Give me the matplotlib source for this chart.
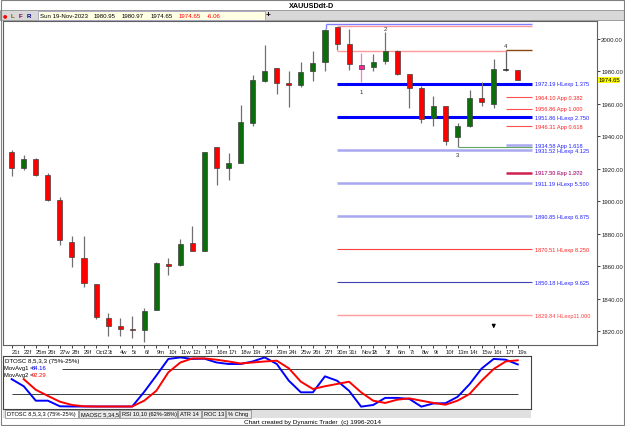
import matplotlib
matplotlib.use('Agg')
import matplotlib.pyplot as plt
from matplotlib.patches import Rectangle

plt.rcParams['font.family'] = ['Liberation Sans', 'DejaVu Sans']

W, H = 625, 427

# daily bars, Sep 21 .. Nov 19 2023
dates = ['21t', '22f', '25m', '26t', '27w', '28t', '29f', 'Oct2', '3t', '4w', '5t', '6f',
         '9m', '10t', '11w', '12t', '13f', '16m', '17t', '18w', '19t', '20f', '23m', '24t',
         '25w', '26t', '27f', '30m', '31t', 'Nov1', '2t', '3f', '6m', '7t', '8w', '9t', '10f',
         '13m', '14t', '15w', '16t', '17f', '19s']
opens = [1930.2, 1920.5, 1926.0, 1916.4, 1901.0, 1875.1, 1865.1, 1849.1, 1828.2, 1823.1, 1821.4,
         1820.8, 1833.1, 1861.4, 1860.8, 1874.3, 1869.6, 1933.2, 1920.3, 1923.6, 1948.2, 1974.2,
         1981.8, 1972.8, 1971.8, 1980.0, 1985.5, 2007.1, 1996.6, 1983.9, 1982.5, 1986.5, 1992.7,
         1978.3, 1969.5, 1951.1, 1958.5, 1939.4, 1946.5, 1963.4, 1959.9, 1980.95, 1980.95]
highs = [1931.6, 1928.5, 1926.6, 1917.2, 1902.8, 1878.5, 1878.5, 1849.4, 1831.1, 1828.4, 1829.2,
         1834.2, 1862.8, 1865.1, 1876.8, 1884.6, 1930.6, 1933.6, 1929.7, 1959.3, 1977.7, 1996.2,
         1982.2, 1980.0, 1985.5, 1992.7, 2006.0, 2007.5, 2006.0, 1991.1, 1990.6, 2004.0, 1993.0,
         1978.6, 1971.1, 1964.6, 1958.8, 1948.2, 1968.7, 1973.6, 1987.6, 1993.3, 1980.97]
lows = [1915.4, 1919.5, 1915.8, 1900.0, 1873.3, 1859.8, 1847.1, 1827.8, 1816.9, 1817.3, 1815.7,
        1813.2, 1833.1, 1854.6, 1860.0, 1869.2, 1869.4, 1910.0, 1913.3, 1923.4, 1946.2, 1973.2,
        1966.0, 1958.2, 1970.2, 1974.2, 1980.0, 1993.1, 1981.0, 1973.2, 1980.4, 1984.5, 1978.0,
        1957.4, 1948.2, 1946.2, 1934.6, 1933.2, 1945.5, 1958.5, 1957.2, 1980.3, 1974.65]
closes = [1920.5, 1926.0, 1916.4, 1900.8, 1876.2, 1865.5, 1849.5, 1828.6, 1823.4, 1821.4, 1820.6,
          1832.3, 1861.8, 1860.4, 1873.7, 1869.6, 1930.2, 1920.3, 1923.4, 1948.6, 1974.6, 1980.4,
          1973.0, 1971.8, 1979.8, 1985.1, 2005.6, 1996.8, 1984.5, 1981.4, 1985.9, 1992.7, 1978.3,
          1969.5, 1950.6, 1958.5, 1937.3, 1946.2, 1963.4, 1960.9, 1981.4, 1980.95, 1974.65]
marked_bar = 29

# DTOSC moving averages
mavg1 = [55, 41, 12.5, 12.5, 1.4, 1, 1, 1, 1, 1, 1, 30, 62, 95, 98, 95, 95.5, 88, 85, 85, 90, 98,
         85, 52, 29, 29, 60.6, 52, 32, 0.7, 4, 18, 18, 16, 0.7, 7, 7.5, 20, 45, 76, 95, 93.5, 84.16]
mavg2 = [None, 55, 34, 22, 10.5, 4, 1.4, 1, 1, 1, 1, 12.5, 32, 68.5, 88, 96, 96, 93.5, 90, 86, 88,
         90, 91.5, 76.5, 50, 35.6, 41, 45.5, 50, 29, 12.5, 8, 14.5, 17, 12.5, 8, 4.5, 12.5, 25.7,
         52, 75, 90, 92.29]

# projection levels
levels = [1972.19, 1964.10, 1956.86, 1951.86, 1946.31, 1934.58, 1931.52, 1917.50, 1911.19,
          1890.85, 1870.51, 1850.18, 1829.84]
level_names = ['HLexp 1.375', 'App 0.382', 'App 1.000', 'HLexp 2.750', 'App 0.618', 'App 1.618',
               'HLexp 4.125', 'Exp 1.272', 'HLexp 5.500', 'HLexp 6.875', 'HLexp 8.250',
               'HLexp 9.625', 'HLexp11.000']
level_from = [27, 41, 41, 27, 41, 41, 27, 41, 27, 27, 27, 27, 27]
level_color = ['#0000ff', '#ff5050', '#ff5050', '#0000ff', '#ff5050', '#a8a8f0', '#a8a8f0',
               '#d02050', '#a8a8f0', '#a8a8f0', '#ff4040', '#4040b0', '#ff9a9a']
level_lw = [2.2, 0.8, 0.8, 2.2, 0.8, 1.8, 1.8, 1.8, 1.8, 1.8, 0.8, 0.8, 1.0]
label_color = ['#2020ff', '#ff2020', '#ff2020', '#2020ff', '#ff2020', '#2020ff', '#2020ff',
               '#e02040', '#2020ff', '#2020ff', '#ff2020', '#2020ff', '#ff4040']

fig = plt.figure(figsize=(W / 100, H / 100), dpi=100)
fig.patch.set_facecolor('white')


def box(x0, y0, x1, y1):
    return [x0 / W, 1 - y1 / H, (x1 - x0) / W, (y1 - y0) / H]


def ftext(x, y, s, **kw):
    kw.setdefault('fontsize', 4.4)
    kw.setdefault('va', 'center')
    fig.text(x / W, 1 - y / H, s, **kw)


def frect(x0, y0, x1, y1, fc, ec='none', lw=0.6):
    fig.add_artist(Rectangle((x0 / W, 1 - y1 / H), (x1 - x0) / W, (y1 - y0) / H,
                             transform=fig.transFigure, facecolor=fc, edgecolor=ec, lw=lw))


# header strips
frect(0, 11, W, 21, '#d8d8d8', '#909090')
frect(38, 12, 265, 20.5, '#ffffe4', '#a0a0c0')
ftext(312, 6, 'XAUUSDdt-D', ha='center', fontsize=5.2, fontweight='bold')
ftext(3, 16, '\u25cf', color='red', fontsize=3.6, family='DejaVu Sans')
ftext(11, 16, 'L', color='#806000', fontweight='bold')
ftext(19, 16, 'F', color='#800040', fontweight='bold')
ftext(27, 16, 'R', color='#000080', fontweight='bold')
ftext(40, 16, 'Sun 19-Nov-2023')
for xx, s, c in [(94, '1980.95', 'k'), (122, '1980.97', 'k'), (151, '1974.65', 'k'),
                 (179, '1974.65', 'red'), (207, '-6.06', 'red')]:
    ftext(xx, 16, s, color=c)
ftext(266, 16, '+', fontsize=6, fontweight='bold')

# price panel
ax = fig.add_axes(box(3, 22, 597, 346))
ax.set_xlim(-0.722, 48.57)
ax.set_ylim(1811.57, 2010.95)
for sp in ax.spines.values():
    sp.set_color('#606060')
    sp.set_linewidth(0.8)

x = list(range(len(opens)))
for i in x:
    o, c = opens[i], closes[i]
    if i == marked_bar:
        body, wick = '#ff2299', '#ff77cc'
    elif abs(c - o) < 0.05:
        body, wick = 'black', '#606060'
    elif c > o:
        body, wick = '#0b6e0b', '#707070'
    else:
        body, wick = '#ff0000', '#707070'
    ax.vlines(i, lows[i], highs[i], color=wick, lw=0.9, zorder=2)
    h = max(abs(c - o), 0.7)
    ax.bar(i, h, bottom=min(o, c), width=0.42, color=body, edgecolor='#404040',
           lw=0.5, zorder=3)

x_end = 43.18
for p, nm, f, col, lw, lc in zip(levels, level_names, level_from, level_color, level_lw,
                                  label_color):
    ax.hlines(p, f, x_end, color=col, lw=lw, zorder=1)
    ax.text(x_end + 0.25, p, '%.2f %s' % (p, nm), color=lc, fontsize=4.1, va='center')
ax.text(x_end + 0.25, 1917.5, '1917.33 App 1.000', color='#8040c0', fontsize=4.1,
        va='center', alpha=0.7)

# swing markers / brackets
ax.hlines(2009.1, 26.1, x_end, color='#8080ff', lw=1)
ax.vlines(26.1, 2006.0, 2009.1, color='#8080ff', lw=1)
ax.hlines(2007.9, 27, x_end, color='#ff9999', lw=1)
ax.hlines(1992.7, 27, 41, color='#ff9999', lw=1)
ax.hlines(1993.3, 41, x_end, color='#8b4513', lw=1)
ax.hlines(1933.2, 37, x_end, color='#60a860', lw=0.8)
for s, xi, yp in [('1', 29, 1967.8), ('2', 31, 2006.3), ('3', 37, 1928.5), ('4', 41, 1995.9)]:
    ax.text(xi, yp, s, fontsize=4.3, ha='center', va='center', color='#303030')
ax.annotate('', xy=(40, 1820.0), xytext=(40, 1825.5),
            arrowprops=dict(arrowstyle='-|>', color='k', lw=0.9, mutation_scale=5))

ax.set_xticks(x)
ax.set_xticklabels(dates, ha='left')
ax.tick_params(axis='x', direction='out', length=2, width=0.6, pad=1.2, labelsize=4.2,
               colors='#202020')
ax.yaxis.tick_right()
ax.set_yticks(range(1820, 2001, 20))
ax.set_yticklabels(['%.2f' % v for v in range(1820, 2001, 20)])
ax.tick_params(axis='y', direction='out', length=2, width=0.6, pad=1, labelsize=4.3,
               colors='#202020')

frect(597.5, 77.5, 620, 84, '#ffff00')
ftext(599, 80.8, '1974.65', fontsize=4.3)

# oscillator panel
ox = fig.add_axes(box(3, 357, 531, 410))
ox.set_xlim(-0.722, 43.10)
ox.set_ylim(-3.95, 100.8)
ox.set_xticks([])
ox.set_yticks([])
for sp in ox.spines.values():
    sp.set_color('#404040')
    sp.set_linewidth(0.8)
ox.hlines(75, 4.2, 42, color='#404040', lw=0.7)
ox.hlines(25, 0, 42, color='#404040', lw=0.7)
ox.plot(x, mavg1, color='#0000ff', lw=1.4)
ox.plot(x[1:], mavg2[1:], color='#ff0000', lw=1.4)
ftext(5, 362, 'DTOSC 8,5,3,3 (75%-25%)')
ftext(4, 369, 'MovAvg1 =', fontsize=4.2)
ftext(32, 369, '84.16', color='blue', fontsize=4.2)
ftext(4, 376, 'MovAvg2 =', fontsize=4.2)
ftext(32, 376, '92.29', color='red', fontsize=4.2)

# tabs
frect(3, 411, 531, 419, '#e0e0e0')
tabs = ['DTOSC 8,5,3,3 (75%-25%)', 'MAOSC 5,34,5', 'RSI 10,10 (62%-38%)', 'ATR 14', 'ROC 13',
        '% Chng']
tab_x = [5, 79, 120, 178, 202, 226, 252]
for k, t in enumerate(tabs):
    frect(tab_x[k], 411, tab_x[k + 1] - 1, 419, 'white' if k == 0 else '#e8e8e8', '#808080', 0.5)
    ftext(tab_x[k] + 2, 415, t, fontsize=4.1)
ftext(312, 422.5, 'Chart created by Dynamic Trader  (c) 1996-2014', ha='center', fontsize=4.6)

frect(0.5, 0.5, W - 1, H - 1.5, 'none', '#808080', 0.8)

fig.savefig('out.png', dpi=100)
